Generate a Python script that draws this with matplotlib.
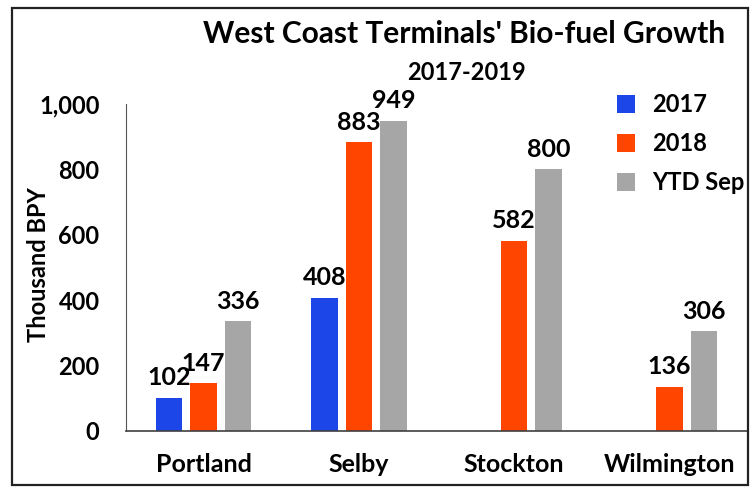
import numpy as np
import matplotlib.pyplot as plt
from matplotlib.patches import Rectangle

## Data
terminals = ['Portland', 'Selby', 'Stockton', 'Wilmington']
series_names = ['2017', '2018', 'YTD Sep']
vals_2017 = [102, 408, None, None]
vals_2018 = [147, 883, 582, 136]
vals_ytd = [336, 949, 800, 306]
colors = ['#1c46e8', '#ff4500', '#a6a6a6']

plt.rcParams['font.family'] = ['Lato', 'DejaVu Sans']
plt.rcParams['font.weight'] = 'bold'

W, H = 752, 488
fig = plt.figure(figsize=(W / 100, H / 100), dpi=100)
ax = fig.add_axes([126 / W, 57 / H, 621 / W, 327 / H])

x = np.arange(len(terminals))
width = 0.17
offsets = [-0.222, 0.0, 0.222]

for vals, off, col, name in zip([vals_2017, vals_2018, vals_ytd], offsets, colors, series_names):
    xs = [xi + off for xi, v in zip(x, vals) if v is not None]
    hs = [v for v in vals if v is not None]
    bars = ax.bar(xs, hs, width, color=col, label=name)
    for b, h in zip(bars, hs):
        ax.annotate(f'{h:,}', (b.get_x() + b.get_width() / 2, h), xytext=(0, 6),
                    textcoords='offset points', ha='center', va='bottom',
                    fontsize=18, fontweight='bold', annotation_clip=False)

ax.set_xlim(-0.5, 3.5)
ax.set_ylim(0, 1000)
ax.set_yticks(np.arange(0, 1001, 200))
ax.set_yticklabels([f'{t:,}' for t in range(0, 1001, 200)], fontsize=17, fontweight='bold')
ax.set_xticks(x)
ax.set_xticklabels(terminals, fontsize=18, fontweight='bold')
ax.tick_params(axis='y', length=0, pad=19)
ax.tick_params(axis='x', length=0, pad=16)
for s in ['top', 'right']:
    ax.spines[s].set_visible(False)
ax.spines['left'].set_color('#555555')
ax.spines['bottom'].set_color('#404040')
ax.spines['bottom'].set_linewidth(1.2)
ax.set_ylabel('Thousand BPY', fontsize=17, fontweight='bold', va='center')
ax.yaxis.set_label_coords(-0.1417, 0.508)

ax.legend(loc='upper left', bbox_to_anchor=(617 / W, 1 - 93 / H), bbox_transform=fig.transFigure,
          frameon=False, borderpad=0, borderaxespad=0,
          handlelength=0.78, handleheight=0.78, handletextpad=0.72, labelspacing=0.68,
          prop={'weight': 'bold', 'size': 17})

fig.text(464 / W, 1 - 34 / H, "West Coast Terminals' Bio-fuel Growth", ha='center', va='center',
         fontsize=21.5, fontweight='bold')
fig.text(467 / W, 1 - 72 / H, '2017-2019', ha='center', va='center', fontsize=17, fontweight='bold')

fig.patches.append(Rectangle((12 / W, 3 / H), 736 / W, 477 / H, transform=fig.transFigure,
                             fill=False, edgecolor='#222222', linewidth=1.6))

fig.savefig('out.png', dpi=100)
